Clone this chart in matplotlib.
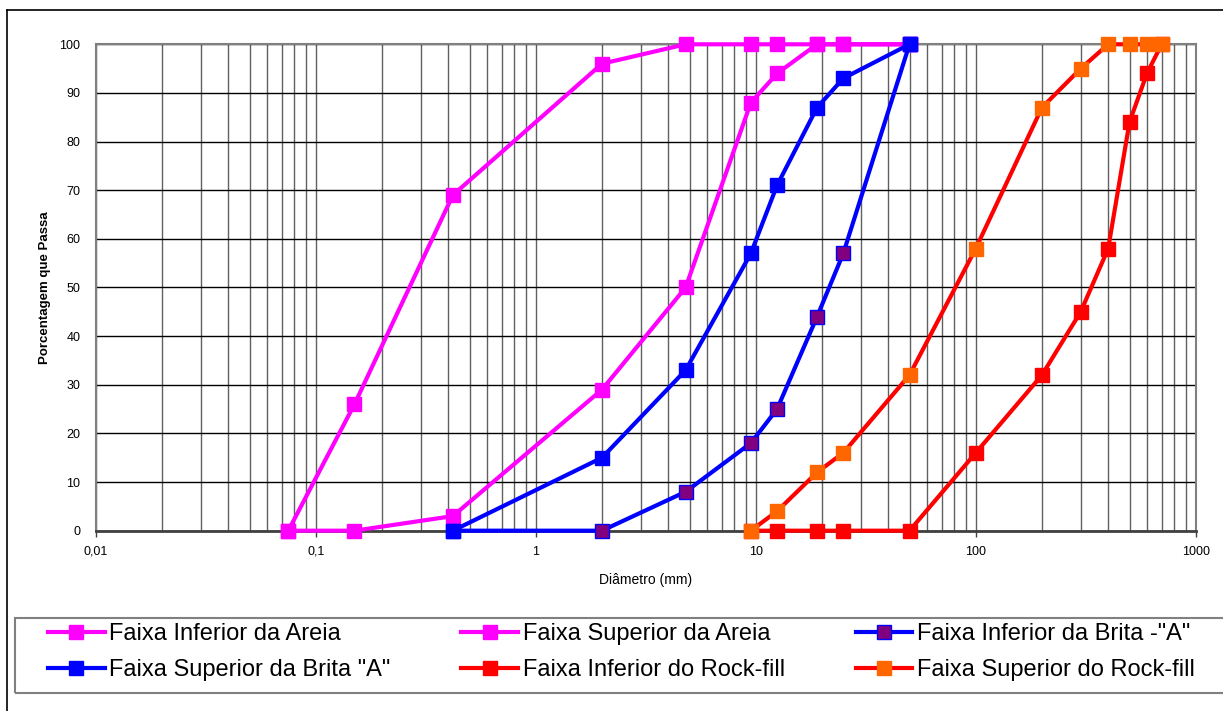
import numpy as np
import matplotlib
matplotlib.use("Agg")
import matplotlib.pyplot as plt
from matplotlib.lines import Line2D
from matplotlib.patches import Rectangle

plt.rcParams['font.family'] = ['Liberation Sans', 'DejaVu Sans']

# diametros (mm) e percentagens que passam
areia_inf_x = [0.075, 0.15, 0.42, 2.0, 4.8, 9.5, 12.5, 19, 25, 50]
areia_inf_y = [0, 26, 69, 96, 100, 100, 100, 100, 100, 100]
areia_sup_x = [0.075, 0.15, 0.42, 2.0, 4.8, 9.5, 12.5, 19, 25, 50]
areia_sup_y = [0, 0, 3, 29, 50, 88, 94, 100, 100, 100]
brita_inf_x = [0.42, 2.0, 4.8, 9.5, 12.5, 19, 25, 50]
brita_inf_y = [0, 0, 8, 18, 25, 44, 57, 100]
brita_sup_x = [0.42, 2.0, 4.8, 9.5, 12.5, 19, 25, 50]
brita_sup_y = [0, 15, 33, 57, 71, 87, 93, 100]
rock_inf_x = [9.5, 12.5, 19, 25, 50, 100, 200, 300, 400, 500, 600, 700]
rock_inf_y = [0, 0, 0, 0, 0, 16, 32, 45, 58, 84, 94, 100]
rock_sup_x = [9.5, 12.5, 19, 25, 50, 100, 200, 300, 400, 500, 600, 700]
rock_sup_y = [0, 4, 12, 16, 32, 58, 87, 95, 100, 100, 100, 100]

xticks = [0.01, 0.1, 1, 10, 100, 1000]
xtick_labels = ['0,01', '0,1', '1', '10', '100', '1000']

fig = plt.figure(figsize=(12.23, 7.11), dpi=100)
ax = fig.add_axes([0.0783, 0.2536, 0.8994, 0.6841])

series = [
    (areia_inf_x, areia_inf_y, 'Faixa Inferior da Areia', '#FF00FF', '#FF00FF', '#FF00FF'),
    (areia_sup_x, areia_sup_y, 'Faixa Superior da Areia', '#FF00FF', '#FF00FF', '#FF00FF'),
    (brita_inf_x, brita_inf_y, 'Faixa Inferior da Brita -"A"', '#0000FF', '#800080', '#0000FF'),
    (brita_sup_x, brita_sup_y, 'Faixa Superior da Brita "A"', '#0000FF', '#0000FF', '#0000FF'),
    (rock_inf_x, rock_inf_y, 'Faixa Inferior do Rock-fill', '#FF0000', '#FF0000', '#FF0000'),
    (rock_sup_x, rock_sup_y, 'Faixa Superior do Rock-fill', '#FF0000', '#FF6600', '#FF6600'),
]
lines = []
for x, y, lab, lc, mfc, mec in series:
    l, = ax.plot(x, y, color=lc, lw=3, marker='s', ms=9.5, mfc=mfc, mec=mec, mew=1,
                 label=lab, clip_on=False, zorder=3)
    lines.append(l)

ax.set_xscale('log')
ax.set_xlim(0.01, 1000)
ax.set_ylim(0, 100)
ax.set_xticks(xticks)
ax.set_xticklabels(xtick_labels)
ax.set_yticks(np.arange(0, 101, 10))

# grelha
ax.grid(True, axis='x', which='both', color='#606060', lw=1, zorder=1)
ax.grid(True, axis='y', which='major', color='black', lw=1, zorder=1)
ax.tick_params(axis='x', which='minor', length=0)
ax.tick_params(axis='x', which='major', length=4, width=1, color='#404040', pad=7, labelsize=9)
ax.tick_params(axis='y', length=0, pad=11, labelsize=9)
for s in ['top', 'left', 'right']:
    ax.spines[s].set_color('#808080')
    ax.spines[s].set_linewidth(1.5)
ax.spines['bottom'].set_color('#404040')
ax.spines['bottom'].set_linewidth(2)

ax.set_xlabel('Diâmetro (mm)', fontsize=10, va='center')
ax.xaxis.set_label_coords(0.5, -0.101)
ax.set_ylabel('Porcentagem que Passa', fontsize=9.5, fontweight='bold', va='center')
ax.yaxis.set_label_coords(-0.046, 0.5)

# legenda preenchida por linhas (ordem da referencia)
order = [0, 3, 1, 4, 2, 5]
leg = fig.legend([lines[i] for i in order], [series[i][2] for i in order],
                 loc='upper left', bbox_to_anchor=(48 / 1223, 1 - 623 / 711),
                 ncol=3, fontsize=17, frameon=False,
                 handlelength=2.4, handletextpad=0.2, borderpad=0, labelspacing=0.6,
                 columnspacing=3.0, borderaxespad=0)
fig.add_artist(Rectangle((15 / 1223, 1 - 693 / 711), 1.0, 75 / 711, transform=fig.transFigure,
                         fill=False, edgecolor='#808080', lw=1.5))

# moldura exterior
fig.add_artist(Line2D([0.0057, 0.0057], [0, 0.986], color='black', lw=1.2))
fig.add_artist(Line2D([0.0057, 1], [0.986, 0.986], color='black', lw=1.2))

fig.savefig('out.png', dpi=100)
